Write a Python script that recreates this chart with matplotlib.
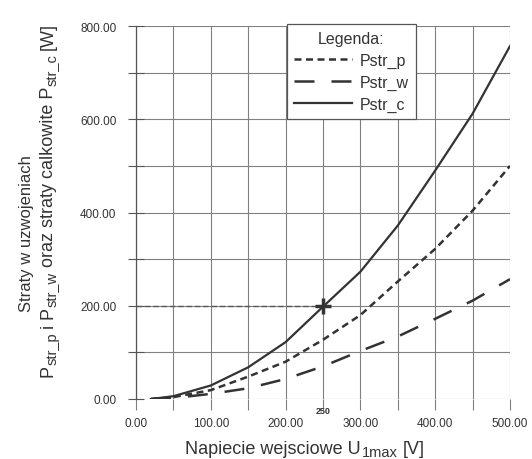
import numpy as np
import matplotlib
matplotlib.use('Agg')
import matplotlib.pyplot as plt
from matplotlib.ticker import MultipleLocator, FormatStrFormatter

plt.rcParams['font.family'] = ['Liberation Sans', 'DejaVu Sans']

# values
napiecie = [20, 50, 100, 150, 200, 250, 300, 350, 400, 450, 500]
pstr_p = [0, 4, 19, 48, 80, 127, 180, 252, 322, 404, 500]
pstr_w = [0, 2, 11, 23, 43, 70, 103, 134, 172, 211, 257]
pstr_c = [0, 6, 29, 68, 122, 198, 273, 372, 490, 612, 757]
punkt_u = 250
punkt_p = 200

ink = '#333333'
grid_col = '#808080'
W, H = 532, 460

fig = plt.figure(figsize=(W / 100, H / 100), dpi=100)
ax = fig.add_axes([136 / W, 1 - 400 / H, 374 / W, 373 / H])

ax.plot(napiecie, pstr_p, color=ink, lw=1.8, ls=(0, (2.8, 1.8)), label='Pstr_p')
ax.plot(napiecie, pstr_w, color=ink, lw=1.8, ls=(0, (8, 6.8)), label='Pstr_w')
ax.plot(napiecie, pstr_c, color=ink, lw=1.6, label='Pstr_c')

# guide to the marked point
ax.plot([0, punkt_u], [punkt_p, punkt_p], color='#555555', lw=1.0, ls=(0, (4, 2)))
ax.plot([punkt_u], [punkt_p], marker='+', ms=11, mew=2.5, color=ink)

ax.set_xlim(0, 500)
ax.set_ylim(0, 800)
ax.xaxis.set_major_locator(MultipleLocator(100))
ax.xaxis.set_minor_locator(MultipleLocator(50))
ax.yaxis.set_major_locator(MultipleLocator(200))
ax.yaxis.set_minor_locator(MultipleLocator(100))
ax.xaxis.set_major_formatter(FormatStrFormatter('%.2f'))
ax.yaxis.set_major_formatter(FormatStrFormatter('%.2f'))

ax.grid(True, which='both', color=grid_col, lw=0.8)
for gl in ax.get_ygridlines():
    if abs(gl.get_ydata()[0] - 800) < 1e-6:
        gl.set_visible(False)
ax.set_axisbelow(True)

for side in ['top', 'right', 'bottom']:
    ax.spines[side].set_visible(False)
ax.spines['left'].set_color('#555555')
ax.spines['left'].set_linewidth(0.9)

ax.tick_params(axis='y', which='both', direction='inout', length=12, width=0.8,
               color='#555555', labelsize=8.5, labelcolor='#333333', pad=8)
ax.tick_params(axis='x', which='both', direction='out', length=8, width=0.8,
               color=grid_col, labelsize=8.5, labelcolor='#333333', pad=5)

ax.text(punkt_u, -14, '250', ha='center', va='top', fontsize=6.5,
        fontweight='bold', color='#333333')

leg = ax.legend(title='Legenda:', loc='upper left', bbox_to_anchor=(0.404, 1.005),
                borderaxespad=0, fontsize=11.5, title_fontsize=11.5, handlelength=3.6,
                handletextpad=0.5, labelspacing=0.42, borderpad=0.45,
                fancybox=False, framealpha=1, edgecolor='#555555')
leg.get_frame().set_linewidth(0.9)
for t in leg.get_texts():
    t.set_color('#333333')
leg.get_title().set_color('#333333')


def pieces_text(pieces, x0, y0, rotation=0, center=None):
    # pieces: (text, fontsize, baseline shift px, gap after px); coords in px from bottom-left
    renderer = fig.canvas.get_renderer()
    texts = []
    pos = 0.0
    for s, size, shift, gap in pieces:
        if rotation == 0:
            x, y = x0 + pos, y0 + shift
        else:
            x, y = x0 - shift, y0 + pos
        t = fig.text(x / W, y / H, s, fontsize=size, color='#333333', rotation=rotation,
                     rotation_mode='anchor', ha='left', va='baseline')
        bb = t.get_window_extent(renderer)
        pos += (bb.width if rotation == 0 else bb.height) + gap
        texts.append(t)
    if center is not None:
        off = center - pos / 2
        for t in texts:
            px, py = t.get_position()
            if rotation == 0:
                t.set_position((px + (off - x0) / W, py))
            else:
                t.set_position((px, py + (off - y0) / H))
    return pos


sp = 4.5
pieces_text([('Napiecie wejsciowe U', 13, 0, 1.5), ('1max', 10.5, -3.5, sp),
             ('[V]', 13, 0, 0)], 185, 6)

pieces_text([('P', 13, 0, 0.5), ('str_p', 10.5, -4, sp), ('i', 13, 0, sp),
             ('P', 13, 0, 0.5), ('str_w', 10.5, -4, sp),
             ('oraz straty calkowite P', 13, 0, 0.5), ('str_c', 10.5, -4, sp),
             ('[W]', 13, 0, 0)], 53, 67, rotation=90, center=H - 200)

fig.text(27 / W, 1 - 234 / H, 'Straty w uzwojeniach', rotation=90,
         ha='center', va='center', fontsize=12, color='#333333')

fig.savefig('out.png', dpi=100)
